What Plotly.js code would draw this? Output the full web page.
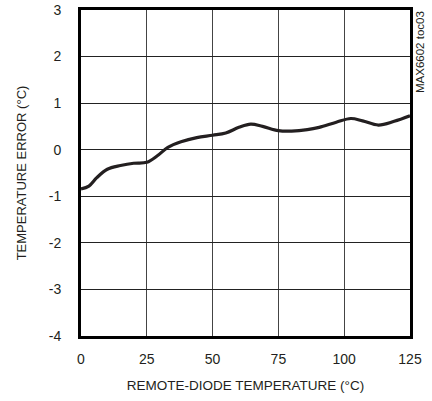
<!DOCTYPE html>
<html>
<head>
<meta charset="utf-8">
<script src="https://cdn.plot.ly/plotly-3.0.1.min.js"></script>
<style>html,body{margin:0;padding:0;background:#fff;}#chart{width:432px;height:401px;}</style>
</head>
<body>
<div id="chart"></div>
<script>
var temperature = [0, 3, 6, 10, 15, 20, 25, 29, 33, 38, 44, 50, 55, 60, 64.5, 69, 75, 80, 86, 90.5, 97, 102.5, 107, 113, 119, 125];
var tempError = [-0.84, -0.78, -0.6, -0.42, -0.34, -0.29, -0.27, -0.13, 0.05, 0.17, 0.26, 0.31, 0.36, 0.48, 0.55, 0.5, 0.41, 0.4, 0.43, 0.48, 0.59, 0.67, 0.62, 0.53, 0.61, 0.73];
var xTickVals = [0, 25, 50, 75, 100, 125];
var xTickText = ['0', '25', '50', '75', '100', '125'];
var yTickVals = [-4, -3, -2, -1, 0, 1, 2, 3];
var yTickText = ['-4', '-3', '-2', '-1', '0', '1', '2', '3'];

var fontFam = '"Liberation Sans Narrow", "Arial Narrow", "Liberation Sans", Arial, sans-serif';

var trace = {
  x: temperature,
  y: tempError,
  mode: 'lines',
  line: {color: '#231f20', width: 3.2, shape: 'spline', smoothing: 1},
  hoverinfo: 'skip'
};

var layout = {
  width: 432,
  height: 401,
  margin: {l: 81, r: 22, t: 10, b: 65},
  paper_bgcolor: '#fff',
  plot_bgcolor: '#fff',
  showlegend: false,
  font: {family: fontFam, color: '#231f20', size: 14},
  xaxis: {
    range: [0, 125],
    tickvals: xTickVals,
    ticktext: xTickText,
    showgrid: true,
    gridcolor: '#444',
    gridwidth: 1,
    zeroline: false,
    showline: true,
    linecolor: '#000',
    linewidth: 3,
    mirror: true,
    ticks: '',
    ticklabelstandoff: 8,
    tickfont: {family: fontFam, size: 14, color: '#231f20'},
    title: {text: 'REMOTE-DIODE TEMPERATURE (°C)', font: {family: fontFam, size: 13.5, color: '#231f20'}, standoff: 15}
  },
  yaxis: {
    range: [-4, 3],
    tickvals: yTickVals,
    ticktext: yTickText,
    showgrid: true,
    gridcolor: '#222',
    gridwidth: 1,
    zeroline: false,
    showline: true,
    linecolor: '#000',
    linewidth: 3,
    mirror: true,
    ticks: '',
    ticklabelstandoff: 14,
    tickfont: {family: fontFam, size: 14, color: '#231f20'},
    title: {text: 'TEMPERATURE ERROR (°C)', font: {family: fontFam, size: 13, color: '#231f20'}, standoff: 20}
  },
  annotations: [{
    text: 'MAX6602 toc03',
    xref: 'paper', yref: 'paper',
    x: 1, y: 1,
    xanchor: 'left', yanchor: 'top',
    xshift: 2, yshift: 1,
    textangle: -90,
    showarrow: false,
    font: {family: fontFam, size: 11.5, color: '#231f20'}
  }]
};

Plotly.newPlot('chart', [trace], layout, {displayModeBar: false, staticPlot: true});
</script>
</body>
</html>
